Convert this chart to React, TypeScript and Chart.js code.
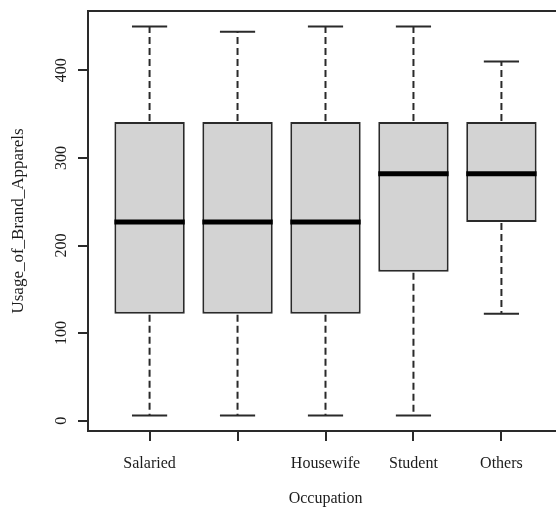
import React, { useEffect, useRef } from 'react';
import { Chart, registerables } from 'chart.js';

Chart.register(...registerables);

// ---- data ----
const categories = ['Salaried', '', 'Housewife', 'Student', 'Others'];
const positions = [1, 2, 3, 4, 5];
const whiskerLow = [6, 6, 6, 6, 122];
const quartile1 = [122, 122, 122, 170, 227];
const medians = [227, 227, 227, 282, 282];
const quartile3 = [341, 341, 341, 341, 341];
const whiskerHigh = [450, 444, 450, 450, 410];
const yTicks = [0, 100, 200, 300, 400];

// R-style axis extension (4%)
const dataMin = Math.min(...whiskerLow);
const dataMax = Math.max(...whiskerHigh);
const yExt = (dataMax - dataMin) * 0.04;
const yMin = dataMin - yExt;
const yMax = dataMax + yExt;
const xMin = 0.5 - 5 * 0.04;
const xMax = 5.5 + 5 * 0.04;

const FONT = '"Liberation Serif", "Times New Roman", serif';
const INK = '#1c1c1c';
const LINE = '#2a2a2a';

const boxDecor = {
  id: 'boxDecor',
  afterDatasetsDraw(chart: any) {
    const { ctx, scales, chartArea } = chart;
    const x = scales.x;
    const y = scales.y;
    ctx.save();
    positions.forEach((p, i) => {
      const cx = x.getPixelForValue(p);
      const capL = x.getPixelForValue(p - 0.2);
      const capR = x.getPixelForValue(p + 0.2);
      const boxL = x.getPixelForValue(p - 0.4);
      const boxR = x.getPixelForValue(p + 0.4);
      const yHi = y.getPixelForValue(whiskerHigh[i]);
      const yLo = y.getPixelForValue(whiskerLow[i]);
      const yQ1 = y.getPixelForValue(quartile1[i]);
      const yQ3 = y.getPixelForValue(quartile3[i]);
      const yMed = y.getPixelForValue(medians[i]);

      // dashed whiskers
      ctx.strokeStyle = LINE;
      ctx.lineWidth = 2;
      ctx.setLineDash([7, 4]);
      ctx.beginPath();
      ctx.moveTo(cx, yQ3 - 1);
      ctx.lineTo(cx, yHi);
      ctx.moveTo(cx, yQ1 + 1);
      ctx.lineTo(cx, yLo);
      ctx.stroke();
      ctx.setLineDash([]);

      // caps
      ctx.beginPath();
      ctx.moveTo(capL, yHi);
      ctx.lineTo(capR, yHi);
      ctx.moveTo(capL, yLo);
      ctx.lineTo(capR, yLo);
      ctx.stroke();

      // median
      ctx.strokeStyle = '#000';
      ctx.lineWidth = 5;
      ctx.beginPath();
      ctx.moveTo(boxL, yMed);
      ctx.lineTo(boxR, yMed);
      ctx.stroke();
    });

    // plot frame
    ctx.strokeStyle = LINE;
    ctx.lineWidth = 2;
    ctx.strokeRect(chartArea.left, chartArea.top, chartArea.right - chartArea.left, chartArea.bottom - chartArea.top);
    ctx.restore();
  },
};

export default function App() {
  const canvasRef = useRef<HTMLCanvasElement | null>(null);

  useEffect(() => {
    const canvas = canvasRef.current;
    if (!canvas) return;
    const chart = new Chart(canvas, {
      type: 'bar',
      data: {
        datasets: [
          {
            data: positions.map((p, i) => ({ x: p, y: [quartile1[i], quartile3[i]] })) as any,
            backgroundColor: '#d3d3d3',
            borderColor: LINE,
            borderWidth: 2,
            borderSkipped: false,
            barPercentage: 0.8,
            categoryPercentage: 1,
          },
        ],
      },
      options: {
        animation: false,
        responsive: false,
        devicePixelRatio: 1,
        layout: { padding: { top: 11, right: 7, bottom: 0, left: 0 } },
        plugins: { legend: { display: false }, tooltip: { enabled: false } },
        scales: {
          x: {
            type: 'linear',
            min: xMin,
            max: xMax,
            offset: false,
            afterBuildTicks: (scale: any) => {
              scale.ticks = positions.map((v) => ({ value: v }));
            },
            afterFit: (scale: any) => {
              scale.height = 81;
              scale.paddingLeft = 0;
              scale.paddingRight = 0;
            },
            grid: {
              offset: false,
              drawOnChartArea: false,
              drawTicks: true,
              tickLength: 10,
              color: LINE,
              lineWidth: 2,
            },
            border: { display: true, color: LINE, width: 2 },
            ticks: {
              autoSkip: false,
              maxRotation: 0,
              minRotation: 0,
              padding: 13,
              color: INK,
              font: { family: FONT, size: 16 },
              callback: (_v: any, index: number) => categories[index],
            },
            title: {
              display: true,
              text: 'Occupation',
              color: INK,
              font: { family: FONT, size: 16, lineHeight: 1.0 },
              padding: { top: 0, bottom: 5 },
            },
          },
          y: {
            type: 'linear',
            min: yMin,
            max: yMax,
            afterBuildTicks: (scale: any) => {
              scale.ticks = yTicks.map((v) => ({ value: v }));
            },
            afterFit: (scale: any) => {
              scale.width = 88;
              scale.paddingTop = 0;
              scale.paddingBottom = 0;
            },
            grid: {
              drawOnChartArea: false,
              drawTicks: true,
              tickLength: 10,
              color: LINE,
              lineWidth: 2,
            },
            border: { display: true, color: LINE, width: 2 },
            ticks: {
              autoSkip: false,
              minRotation: 90,
              maxRotation: 90,
              crossAlign: 'center',
              padding: 4,
              color: INK,
              font: { family: FONT, size: 16 },
              callback: (v: any) => String(v),
            },
            title: {
              display: true,
              text: 'Usage_of_Brand_Apparels',
              color: INK,
              font: { family: FONT, size: 17 },
              padding: { top: 8, bottom: 0 },
            },
          },
        },
      },
      plugins: [boxDecor],
    } as any);
    return () => chart.destroy();
  }, []);

  return (
    <div
      style={{
        position: 'absolute',
        left: 0,
        top: 0,
        width: 556,
        height: 512,
        overflow: 'hidden',
        background: '#fff',
      }}
    >
      <canvas ref={canvasRef} width={570} height={512} style={{ display: 'block' }} />
    </div>
  );
}
